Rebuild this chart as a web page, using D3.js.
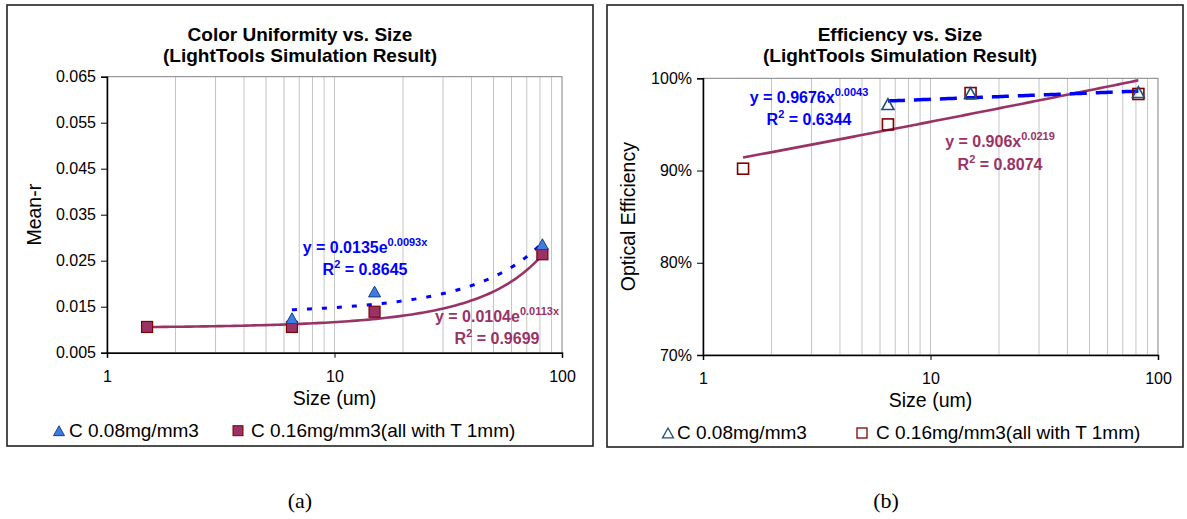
<!DOCTYPE html>
<html>
<head>
<meta charset="utf-8">
<script src="https://cdn.jsdelivr.net/npm/d3@7"></script>
<style>
  html, body { margin: 0; padding: 0; background: #fff; }
  svg text { font-family: "Liberation Sans", Arial, sans-serif; }
</style>
</head>
<body>
<svg id="chart" width="1187" height="519"></svg>
<script>
// ---------------- DATA ----------------
const seriesNames = ["C 0.08mg/mm3", "C 0.16mg/mm3(all with T 1mm)"];
const sizes008 = [6.5, 15, 82];
const sizes016 = [1.5, 6.5, 15, 82];

// (a) Color uniformity (Mean-r)
const meanR008 = [0.0125, 0.0183, 0.0286];
const meanR016 = [0.0106, 0.0106, 0.0139, 0.0264];
const meanRTicks = [0.005, 0.015, 0.025, 0.035, 0.045, 0.055, 0.065];
const meanRTickLabels = ["0.005", "0.015", "0.025", "0.035", "0.045", "0.055", "0.065"];
// exponential trendlines y = a * e^(b x)
const meanRTrend008 = [0.0135, 0.0093];
const meanRTrend016 = [0.0104, 0.0113];
const meanRLabel008 = ["y = 0.0135e", "0.0093x", "0.8645"];
const meanRLabel016 = ["y = 0.0104e", "0.0113x", "0.9699"];

// (b) Optical efficiency
const eff008 = [0.972, 0.984, 0.985];
const eff016 = [0.902, 0.950, 0.984, 0.983];
const effTicks = [0.7, 0.8, 0.9, 1.0];
const effTickLabels = ["70%", "80%", "90%", "100%"];
// power trendlines y = a * x^b
const effTrend008 = [0.9676, 0.0043];
const effTrend016 = [0.906, 0.0219];
const effLabel008 = ["y = 0.9676x", "0.0043", "0.6344"];
const effLabel016 = ["y = 0.906x", "0.0219", "0.8074"];

const xTicks = [1, 10, 100];
const xTickLabels = ["1", "10", "100"];

// ---------------- DRAWING ----------------
const svg = d3.select("#chart");
const BLUE = "#0000ff", MAROON = "#993366", DARKRED = "#800000";
const TRI_FILL = "#3b7de3", TRI_STROKE = "#1f3f80", OPEN_TRI = "#1f4e79";

function triPath(w) { // triangle centered at 0,0 with width w
  const h = w * 0.9;
  return `M0,${-h/2}L${w/2},${h/2}L${-w/2},${h/2}Z`;
}

function drawPanel(p) {
  const g = svg.append("g");
  // frame
  g.append("rect").attr("x", p.frame[0]).attr("y", p.frame[1])
    .attr("width", p.frame[2]).attr("height", p.frame[3])
    .attr("fill", "none").attr("stroke", "#222").attr("stroke-width", 1.6);

  const x = d3.scaleLog().domain([1, 100]).range([p.left, p.right]);
  const y = d3.scaleLinear().domain(p.yDomain).range([p.bottom, p.top]);

  // minor vertical gridlines
  const grid = [];
  [1, 10].forEach(d => { for (let k = 2; k <= 10; k++) { if (k * d < 100) grid.push(k * d); } });
  g.append("g").selectAll("line").data(grid).join("line")
    .attr("x1", d => x(d)).attr("x2", d => x(d))
    .attr("y1", p.top).attr("y2", p.bottom)
    .attr("stroke", "#c4c4c4").attr("stroke-width", 1);

  // plot border (top/right gray)
  g.append("rect").attr("x", p.left).attr("y", p.top)
    .attr("width", p.right - p.left).attr("height", p.bottom - p.top)
    .attr("fill", "none").attr("stroke", "#808080").attr("stroke-width", 1);

  // axes
  const yAxis = d3.axisLeft(y).tickValues(p.yTicks)
    .tickFormat((d, i) => p.yTickLabels[i]).tickSize(6).tickPadding(5);
  const ya = g.append("g").attr("transform", `translate(${p.left},0)`).call(yAxis);
  ya.select(".domain").attr("stroke", "#000").attr("stroke-width", 1.5);
  ya.selectAll(".tick line").attr("stroke", "#000");
  ya.selectAll("text").style("font-size", "16px").attr("fill", "#000");

  const xAxis = d3.axisBottom(x).tickValues(xTicks)
    .tickFormat((d, i) => xTickLabels[i]).tickSize(5).tickPadding(13);
  const xa = g.append("g").attr("transform", `translate(0,${p.bottom})`).call(xAxis);
  xa.select(".domain").attr("stroke", "#000").attr("stroke-width", 1.5);
  xa.selectAll(".tick line").attr("stroke", "#000");
  xa.selectAll("text").style("font-size", "16px").attr("fill", "#000");

  // trendlines
  const line = d3.line().x(d => x(d[0])).y(d => y(d[1]));
  function trend(coef, x0, x1, kind) {
    const pts = d3.range(0, 101).map(i => {
      const xv = Math.pow(10, Math.log10(x0) + (Math.log10(x1) - Math.log10(x0)) * i / 100);
      const yv = kind === "exp" ? coef[0] * Math.exp(coef[1] * xv) : coef[0] * Math.pow(xv, coef[1]);
      return [xv, yv];
    });
    return line(pts);
  }
  g.append("path").attr("d", trend(p.trend016, d3.min(sizes016), d3.max(sizes016), p.kind))
    .attr("fill", "none").attr("stroke", MAROON).attr("stroke-width", 2.6);
  g.append("path").attr("d", trend(p.trend008, d3.min(sizes008), d3.max(sizes008), p.kind))
    .attr("fill", "none").attr("stroke", BLUE).attr("stroke-width", p.blueWidth)
    .attr("stroke-dasharray", p.blueDash);

  // markers: squares (series 2)
  const s2 = sizes016.map((s, i) => [s, p.vals016[i]]);
  g.append("g").selectAll("rect").data(s2).join("rect")
    .attr("x", d => x(d[0]) - 5.5).attr("y", d => y(d[1]) - 5.5)
    .attr("width", 11).attr("height", 11)
    .attr("fill", p.filled ? MAROON : "none")
    .attr("stroke", DARKRED).attr("stroke-width", p.filled ? 1.2 : 1.6);
  // triangles (series 1)
  const s1 = sizes008.map((s, i) => [s, p.vals008[i]]);
  g.append("g").selectAll("path").data(s1).join("path")
    .attr("transform", d => `translate(${x(d[0])},${y(d[1])})`)
    .attr("d", triPath(12))
    .attr("fill", p.filled ? TRI_FILL : "none")
    .attr("stroke", p.filled ? TRI_STROKE : OPEN_TRI).attr("stroke-width", p.filled ? 1 : 1.6);

  // trend equation labels
  function eqLabel(lbl, cx, b1, b2, color) {
    const t1 = g.append("text").attr("x", cx).attr("y", b1).attr("text-anchor", "middle")
      .attr("fill", color).style("font-size", "16px").style("font-weight", "bold");
    t1.append("tspan").text(lbl[0]);
    t1.append("tspan").attr("dy", -7).style("font-size", "11px").text(lbl[1]);
    const t2 = g.append("text").attr("x", cx).attr("y", b2).attr("text-anchor", "middle")
      .attr("fill", color).style("font-size", "16px").style("font-weight", "bold");
    t2.append("tspan").text("R");
    t2.append("tspan").attr("dy", -7).style("font-size", "11px").text("2");
    t2.append("tspan").attr("dy", 7).text(" = " + lbl[2]);
  }
  eqLabel(p.label008, p.lab008[0], p.lab008[1], p.lab008[2], BLUE);
  eqLabel(p.label016, p.lab016[0], p.lab016[1], p.lab016[2], MAROON);

  // titles
  g.append("text").attr("x", p.titleX).attr("y", 41).attr("text-anchor", "middle")
    .style("font-size", "19px").style("font-weight", "bold").text(p.title);
  g.append("text").attr("x", p.titleX).attr("y", 62).attr("text-anchor", "middle")
    .style("font-size", "19px").style("font-weight", "bold").text("(LightTools Simulation Result)");

  // axis titles
  g.append("text").attr("x", (p.left + p.right) / 2).attr("y", p.bottom + 52)
    .attr("text-anchor", "middle").style("font-size", "19.5px").text("Size (um)");
  g.append("text").attr("transform", `translate(${p.yTitleX},${(p.top + p.bottom) / 2}) rotate(-90)`)
    .attr("text-anchor", "middle").style("font-size", "19.5px").text(p.yTitle);

  // legend
  const ly = p.bottom + 84;
  g.append("path").attr("transform", `translate(${p.leg[0]},${ly - 6})`).attr("d", triPath(11))
    .attr("fill", p.filled ? TRI_FILL : "none")
    .attr("stroke", p.filled ? TRI_STROKE : OPEN_TRI).attr("stroke-width", p.filled ? 1 : 1.3);
  g.append("text").attr("x", p.leg[1]).attr("y", ly).style("font-size", "19px").text(seriesNames[0]);
  g.append("rect").attr("x", p.leg[2] - 5).attr("y", ly - 11).attr("width", 10).attr("height", 10)
    .attr("fill", p.filled ? MAROON : "none").attr("stroke", DARKRED).attr("stroke-width", p.filled ? 1 : 1.3);
  g.append("text").attr("x", p.leg[3]).attr("y", ly).style("font-size", "19px").text(seriesNames[1]);

  // caption
  svg.append("text").attr("x", p.capX).attr("y", 508).attr("text-anchor", "middle")
    .style("font-family", "'Liberation Serif', 'Times New Roman', serif").style("font-size", "22px")
    .text(p.caption);
}

drawPanel({
  frame: [7, 5, 586, 441],
  left: 107, right: 562, top: 76.7, bottom: 352.7,
  yDomain: [0.005, 0.065], yTicks: meanRTicks, yTickLabels: meanRTickLabels,
  vals008: meanR008, vals016: meanR016,
  trend008: meanRTrend008, trend016: meanRTrend016, kind: "exp",
  blueWidth: 3, blueDash: "5,10",
  filled: true,
  label008: meanRLabel008, label016: meanRLabel016,
  lab008: [365, 253, 275], lab016: [497, 322, 344],
  title: "Color Uniformity vs. Size", titleX: 300,
  yTitle: "Mean-r", yTitleX: 41,
  leg: [59, 69, 238, 251],
  caption: "(a)", capX: 300
});

drawPanel({
  frame: [607, 5, 576, 442],
  left: 703, right: 1158, top: 78.3, bottom: 355,
  yDomain: [0.7, 1.0], yTicks: effTicks, yTickLabels: effTickLabels,
  vals008: eff008, vals016: eff016,
  trend008: effTrend008, trend016: effTrend016, kind: "pow",
  blueWidth: 3.5, blueDash: "17,9",
  filled: false,
  label008: effLabel008, label016: effLabel016,
  lab008: [809, 103, 125], lab016: [1000, 147, 170],
  title: "Efficiency vs. Size", titleX: 900,
  yTitle: "Optical Efficiency", yTitleX: 635,
  leg: [668, 677, 862, 876],
  caption: "(b)", capX: 886
});
</script>
</body>
</html>
